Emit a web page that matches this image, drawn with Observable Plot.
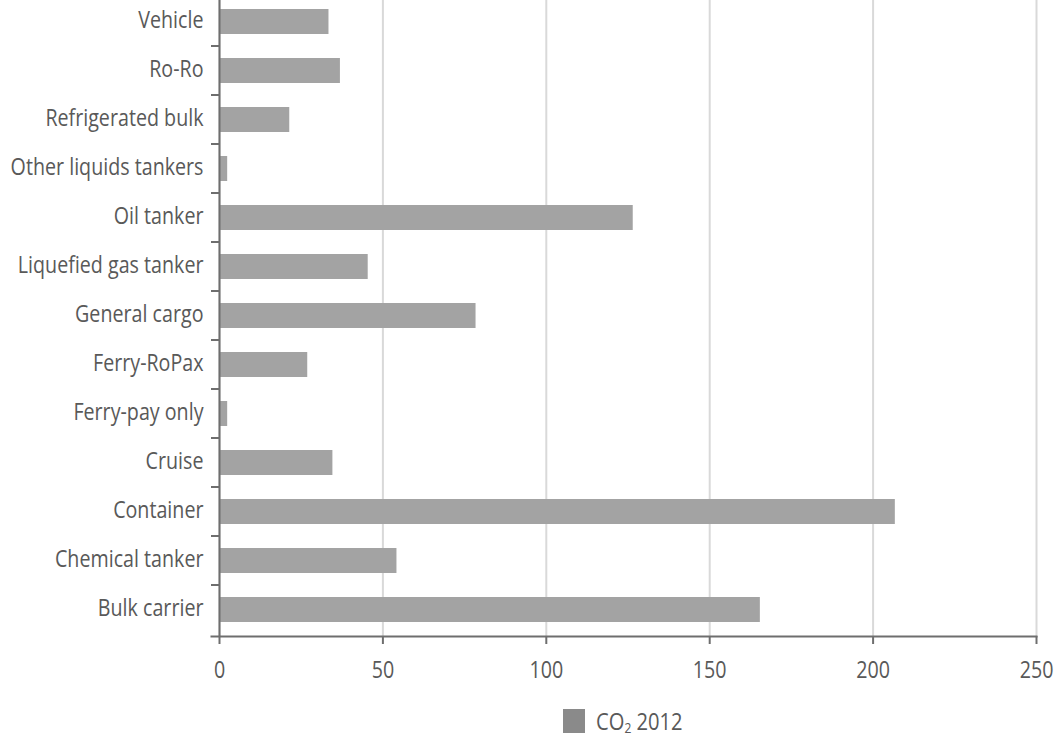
<!DOCTYPE html>
<html>
<head>
<meta charset="utf-8">
<script src="https://cdn.jsdelivr.net/npm/d3@7"></script>
<script src="https://cdn.jsdelivr.net/npm/@observablehq/plot@0.6"></script>
<style>
  html, body { margin: 0; padding: 0; background: #fff; }
  #chart svg { display: block; }
  .legend {
    box-sizing: border-box;
    width: 1062px; height: 24px;
    padding-left: 210px; padding-right: 26px;
    display: flex; justify-content: center; align-items: center;
    margin-top: 9px;
    font-family: "Open Sans", sans-serif;
    font-size: 24px; line-height: 24px; color: #595959;
  }
  .legend .sw { width: 22px; height: 24px; background: #8a8a8a; margin-right: 11px; flex: none; }
  .legend .lt { display: inline-block; white-space: nowrap; transform: scaleX(0.84); transform-origin: 0 50%; }
</style>
</head>
<body>
<div id="chart"></div>
<div class="legend"><span class="sw"></span><span class="lt" id="lt">CO<sub style="font-size:0.6em;line-height:0;vertical-align:-0.2em">2</sub> 2012</span></div>
<script>
const categories = [
  "Vehicle", "Ro-Ro", "Refrigerated bulk", "Other liquids tankers", "Oil tanker",
  "Liquefied gas tanker", "General cargo", "Ferry-RoPax", "Ferry-pay only",
  "Cruise", "Container", "Chemical tanker", "Bulk carrier"
];
const co2_2012 = [33.5, 37, 21.5, 2.5, 126.6, 45.5, 78.5, 27, 2.5, 34.7, 206.8, 54.3, 165.5];
const xTicks = [0, 50, 100, 150, 200, 250];

const rows = categories.map((c, i) => ({type: c, value: co2_2012[i]}));

const FONT = '"Open Sans", sans-serif';
const TEXT = "#595959";
const AXIS = "#6e6e6e";
const SQUEEZE = 0.82;

const chart = Plot.plot({
  width: 1062,
  height: 700,
  marginLeft: 219,
  marginRight: 26,
  marginTop: 0,
  marginBottom: 64,
  style: {fontFamily: FONT, fontSize: "24px", color: TEXT, background: "#fff"},
  x: {domain: [0, 250], ticks: xTicks},
  y: {domain: categories, range: [-6, 636], paddingInner: 0.5, paddingOuter: 0.25},
  marks: [
    Plot.gridX({ticks: xTicks, stroke: "#d9d9d9", strokeOpacity: 1, strokeWidth: 2}),
    Plot.barX(rows, {x: "value", y: "type", fill: "#a3a3a3"}),
    Plot.ruleX([0], {stroke: AXIS, strokeWidth: 2}),
    Plot.frame({anchor: "bottom", insetLeft: -8, stroke: AXIS, strokeWidth: 2}),
    Plot.axisX({ticks: xTicks, tickSize: 8, tickPadding: 16, stroke: AXIS, strokeWidth: 2, fill: TEXT, fontSize: 24, label: null}),
    Plot.axisY({tickSize: 0, tickPadding: 16, dy: -2, fill: TEXT, fontSize: 24, label: null})
  ]
});

document.getElementById("chart").appendChild(chart);
const svgEl = chart.tagName.toLowerCase() === "svg" ? chart : chart.querySelector("svg");
const svg = d3.select(svgEl);

// condensed look: squeeze every label horizontally around its own anchor
svg.selectAll("text").each(function () {
  const t = this.getAttribute("transform") || "";
  const x = +(this.getAttribute("x") || 0);
  this.setAttribute("transform", `${t} translate(${x},0) scale(${SQUEEZE},1) translate(${-x},0)`);
});

// band-boundary ticks on the category axis, derived from the y scale
const ys = chart.scale("y");
const step = ys.step ?? ((ys.range[1] - ys.range[0]) / categories.length);
const bw = ys.bandwidth ?? step * 0.5;
const g = svg.append("g").attr("stroke", AXIS).attr("stroke-width", 2);
categories.slice(1).forEach(c => {
  const yb = ys.apply(c) - (step - bw) / 2;
  g.append("line").attr("x1", 219 - 8).attr("x2", 219).attr("y1", yb).attr("y2", yb);
});

// legend text squeezed the same way; fix its layout width
const lt = document.getElementById("lt");
lt.style.marginRight = (-(1 - 0.84) * lt.offsetWidth) + "px";
</script>
</body>
</html>
